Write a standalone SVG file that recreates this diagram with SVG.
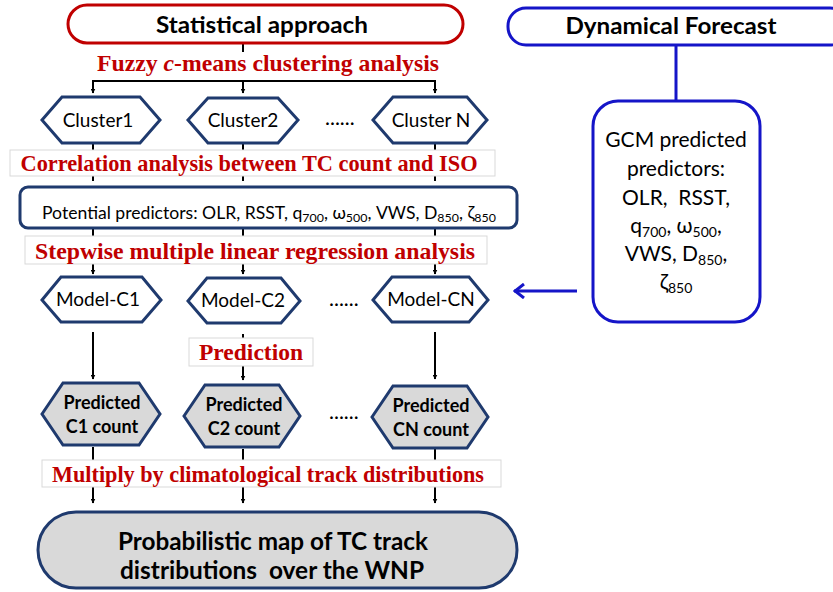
<svg xmlns="http://www.w3.org/2000/svg" width="833" height="592" viewBox="0 0 833 592">
<defs>
<marker id="ah" viewBox="0 0 10 10" refX="9" refY="5" markerWidth="5" markerHeight="5" orient="auto" markerUnits="userSpaceOnUse">
<path d="M0,0 L10,5 L0,10 z" fill="#000"/>
</marker>
<marker id="ahb" viewBox="0 0 12 16" refX="11" refY="8" markerWidth="12" markerHeight="16" orient="auto" markerUnits="userSpaceOnUse">
<path d="M1,1 L10,8 L1,15" fill="none" stroke="#1515c8" stroke-width="3"/>
</marker>
</defs>
<style>
.hex{fill:#fff;stroke:#1f3a6e;stroke-width:3;stroke-linejoin:miter}
.hexg{fill:#d9d9d9;stroke:#1f3a6e;stroke-width:3}
.lbl{fill:#fff;stroke:#d9d9d9;stroke-width:1}
.red{font-family:"Liberation Serif",serif;font-weight:bold;fill:#c00000;text-anchor:middle}
.sans{font-family:Lato,"Open Sans",sans-serif;fill:#000;text-anchor:middle}
.b{font-weight:bold}
.ln{stroke:#000;stroke-width:2;fill:none}
.ar{stroke:#000;stroke-width:2;fill:none;marker-end:url(#ah)}
.dots{font-family:Lato,sans-serif;font-size:21px;fill:#000}
</style>

<g id="connectors">
<line class="ln" x1="243" y1="43" x2="243" y2="52"/>
<polyline class="ln" points="93,91 93,81 435,81 435,91"/>
<line class="ar" x1="93" y1="81" x2="93" y2="93"/>
<line class="ar" x1="243" y1="81" x2="243" y2="93"/>
<line class="ar" x1="435" y1="81" x2="435" y2="93"/>
<line class="ln" x1="93" y1="144" x2="93" y2="150"/>
<line class="ln" x1="243" y1="144" x2="243" y2="150"/>
<line class="ln" x1="435" y1="144" x2="435" y2="150"/>
<line class="ln" x1="93" y1="176" x2="93" y2="181"/>
<line class="ln" x1="243" y1="176" x2="243" y2="181"/>
<line class="ln" x1="435" y1="176" x2="435" y2="181"/>
<line class="ln" x1="93" y1="229" x2="93" y2="236"/>
<line class="ln" x1="243" y1="229" x2="243" y2="236"/>
<line class="ln" x1="435" y1="229" x2="435" y2="236"/>
<line class="ar" x1="93" y1="264" x2="93" y2="274"/>
<line class="ar" x1="243" y1="264" x2="243" y2="274"/>
<line class="ar" x1="435" y1="264" x2="435" y2="274"/>
<line class="ar" x1="93" y1="332" x2="93" y2="379"/>
<line class="ar" x1="435" y1="332" x2="435" y2="379"/>
<line class="ln" x1="243" y1="334" x2="243" y2="338"/>
<line class="ar" x1="243" y1="366" x2="243" y2="380"/>
<line class="ln" x1="93" y1="447" x2="93" y2="460"/>
<line class="ln" x1="243" y1="449" x2="243" y2="460"/>
<line class="ln" x1="435" y1="449" x2="435" y2="460"/>
<line class="ar" x1="93" y1="487" x2="93" y2="503"/>
<line class="ar" x1="243" y1="487" x2="243" y2="503"/>
<line class="ar" x1="435" y1="487" x2="435" y2="503"/>
<line x1="676" y1="45" x2="676" y2="101" stroke="#1515c8" stroke-width="3"/>
<line x1="577" y1="291" x2="514" y2="291" stroke="#1515c8" stroke-width="3" marker-end="url(#ahb)"/>
</g>

<g id="statistical">
<rect x="68" y="5" width="395" height="38" rx="19" fill="#fff" stroke="#c00000" stroke-width="3"/>
<text class="sans b" x="262" y="33" font-size="23" textLength="212" lengthAdjust="spacingAndGlyphs">Statistical approach</text>
</g>

<g id="dynamical">
<rect x="508" y="8" width="340" height="37" rx="18" fill="#fff" stroke="#1515c8" stroke-width="3"/>
<text class="sans b" x="671" y="34" font-size="23" textLength="211" lengthAdjust="spacingAndGlyphs">Dynamical Forecast</text>
</g>

<g id="fuzzy-label">
<text class="red" x="268" y="71" font-size="24" textLength="342" lengthAdjust="spacingAndGlyphs">Fuzzy <tspan font-style="italic">c</tspan>-means clustering analysis</text>
</g>

<g id="cluster1">
<polygon class="hex" points="42,120 62,97 140,97 160,120 140,143 62,143"/>
<text class="sans" x="98" y="127" font-size="19">Cluster1</text>
</g>
<g id="cluster2">
<polygon class="hex" points="188,120 208,98 278,98 298,120 278,143 208,143"/>
<text class="sans" x="243" y="127" font-size="19">Cluster2</text>
</g>
<text class="dots" x="325" y="125">......</text>
<g id="clusterN">
<polygon class="hex" points="373,120 393,97 467,97 487,120 467,143 393,143"/>
<text class="sans" x="431" y="127" font-size="19">Cluster N</text>
</g>

<g id="correlation-label">
<rect class="lbl" x="10" y="150" width="485" height="26"/>
<text class="red" x="249" y="171" font-size="24" textLength="457" lengthAdjust="spacingAndGlyphs">Correlation analysis between TC count and ISO</text>
</g>

<g id="potential-predictors">
<rect x="20" y="187" width="497" height="41" rx="8" fill="#fff" stroke="#1f3a6e" stroke-width="3"/>
<text x="42" y="219" font-family="Lato,'Open Sans',sans-serif" font-size="17" fill="#000" textLength="454" lengthAdjust="spacingAndGlyphs">Potential predictors: OLR, RSST, q<tspan font-size="12" dy="3">700</tspan><tspan dy="-3">, ω</tspan><tspan font-size="12" dy="3">500</tspan><tspan dy="-3">, VWS, D</tspan><tspan font-size="12" dy="3">850</tspan><tspan dy="-3">, ζ</tspan><tspan font-size="12" dy="3">850</tspan></text>
</g>

<g id="stepwise-label">
<rect class="lbl" x="25" y="236" width="462" height="28"/>
<text class="red" x="255" y="259" font-size="24" textLength="440" lengthAdjust="spacingAndGlyphs">Stepwise multiple linear regression analysis</text>
</g>

<g id="model-c1">
<polygon class="hex" points="42,300 61,277 142,277 161,300 142,322 61,322"/>
<text class="sans" x="98" y="306" font-size="19">Model-C1</text>
</g>
<g id="model-c2">
<polygon class="hex" points="188,301 207,278 281,278 300,301 281,323 207,323"/>
<text class="sans" x="243" y="307" font-size="19">Model-C2</text>
</g>
<text class="dots" x="329" y="306">......</text>
<g id="model-cn">
<polygon class="hex" points="373,300 392,277 469,277 488,300 469,322 392,322"/>
<text class="sans" x="431" y="306" font-size="19">Model-CN</text>
</g>

<g id="prediction-label">
<rect class="lbl" x="189" y="338" width="124" height="28"/>
<text class="red" x="251" y="360" font-size="24" textLength="104" lengthAdjust="spacingAndGlyphs">Prediction</text>
</g>

<g id="predicted-c1">
<polygon class="hexg" points="42,414 63,383 139,383 160,414 139,445 63,445"/>
<text class="sans b" x="102" y="409" font-size="18">Predicted</text>
<text class="sans b" x="102" y="433" font-size="18">C1 count</text>
</g>
<g id="predicted-c2">
<polygon class="hexg" points="184,416 205,385 279,385 300,416 279,447 205,447"/>
<text class="sans b" x="244" y="411" font-size="18">Predicted</text>
<text class="sans b" x="244" y="435" font-size="18">C2 count</text>
</g>
<text class="dots" x="329" y="419">......</text>
<g id="predicted-cn">
<polygon class="hexg" points="372,417 393,386 467,386 488,417 467,448 393,448"/>
<text class="sans b" x="431" y="412" font-size="18">Predicted</text>
<text class="sans b" x="431" y="436" font-size="18">CN count</text>
</g>

<g id="multiply-label">
<rect class="lbl" x="42" y="460" width="459" height="27"/>
<text class="red" x="268" y="482" font-size="23" textLength="432" lengthAdjust="spacingAndGlyphs">Multiply by climatological track distributions</text>
</g>

<g id="probabilistic-map">
<rect x="38" y="512" width="479" height="76" rx="38" fill="#d9d9d9" stroke="#1f3a6e" stroke-width="3"/>
<text class="sans b" x="273" y="550" font-size="25" textLength="310" lengthAdjust="spacingAndGlyphs">Probabilistic map of TC track</text>
<text class="sans b" x="272" y="579" font-size="25" textLength="304" lengthAdjust="spacingAndGlyphs">distributions&#160; over the WNP</text>
</g>

<g id="gcm">
<rect x="593" y="101" width="167" height="221" rx="25" fill="#fff" stroke="#1515c8" stroke-width="3"/>
<g font-family="Lato,'Open Sans',sans-serif" font-size="21" fill="#000" text-anchor="middle">
<text x="676" y="147">GCM predicted</text>
<text x="676" y="176">predictors:</text>
<text x="676" y="205">OLR,&#160; RSST,</text>
<text x="676" y="233">q<tspan font-size="14" dy="4">700</tspan><tspan dy="-4">, ω</tspan><tspan font-size="14" dy="4">500</tspan><tspan dy="-4">,</tspan></text>
<text x="676" y="261">VWS, D<tspan font-size="14" dy="4">850</tspan><tspan dy="-4">,</tspan></text>
<text x="676" y="289">ζ<tspan font-size="14" dy="4">850</tspan></text>
</g>
</g>
</svg>
